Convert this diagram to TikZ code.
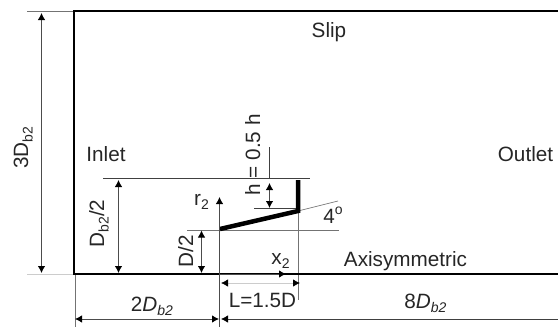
\documentclass[tikz,border=0pt]{standalone}
\usepackage{fontspec}
\setmainfont{Liberation Sans}
\usetikzlibrary{arrows.meta}
\newcommand{\lowsub}[1]{\raisebox{-4.5pt}{\fontsize{14}{14}\selectfont #1}}
\newcommand{\highsup}[1]{\raisebox{9pt}{\fontsize{14}{14}\selectfont #1}}
\tikzset{
  x=1pt,y=-1pt,
  thickline/.style={line width=2pt,black},
  heavy/.style={line width=4.5pt,black,line join=miter},
  thin line/.style={line width=0.8pt,black!75},
  ext/.style={line width=0.7pt,black!55},
  faint/.style={line width=0.8pt,black!20},
  dim/.style={line width=0.9pt,black!70,{Latex[length=7pt,width=7.5pt,black]}-{Latex[length=7pt,width=7.5pt,black]}},
  tip/.style={line width=0.9pt,black!70,-{Latex[length=7pt,width=7.5pt,black]}},
  lab/.style={font=\fontsize{20.7}{22}\selectfont,text=black!85,inner sep=0pt,anchor=base},
}
\begin{document}
\begin{tikzpicture}
\useasboundingbox (0,0) rectangle (558,327);
\coordinate (tl) at (74,11);
\coordinate (tr) at (558,11);
\coordinate (bl) at (74,274);
\coordinate (br) at (558,274);
\coordinate (tlx) at (27,11);
\coordinate (blx) at (27,274);
\coordinate (a) at (220,229);
\coordinate (b) at (298,211);
\coordinate (c) at (298,180);
\coordinate (hl) at (254,208);
\coordinate (hr) at (298,208);
\draw[ext] (tlx) -- (tl);
\draw[faint] (blx) -- (bl);
\draw[thin line] (103,178.5) -- (310,178.5);
\draw[ext] (187,230) -- (339,230);
\draw[thin line] (hl) -- (hr);
\draw[ext] (b) -- (338,201);
\draw[ext] (298,211) -- (298,300);
\draw[ext] (75,274) -- (75,327);
\draw[thin line] (269.5,147) -- (269.5,178);
\draw[thickline] (tr) -- (tl) -- (bl) -- (br);
\draw[heavy] (a) -- (b) -- (c);
\coordinate (d3t) at (41.5,13); \coordinate (d3b) at (41.5,273);
\draw[dim] (d3t) -- (d3b);
\coordinate (d1t) at (118.5,180); \coordinate (d1b) at (118.5,273);
\draw[dim] (d1t) -- (d1b);
\coordinate (d2t) at (201.5,230.5); \coordinate (d2b) at (201.5,273);
\draw[dim] (d2t) -- (d2b);
\coordinate (ht) at (269.5,183); \coordinate (hb) at (269.5,208);
\draw[dim] (ht) -- (hb);
\coordinate (rb) at (219.5,327); \coordinate (rt) at (219.5,197);
\draw[tip] (rb) -- (rt);
\coordinate (xl) at (220,274); \coordinate (xr) at (286,274);
\draw[tip] (xl) -- (xr);
\coordinate (ll) at (221,283); \coordinate (lr) at (300,283);
\draw[faint,{Latex[length=7pt,width=7.5pt,black]}-{Latex[length=7pt,width=7.5pt,black]}] (ll) -- (lr);
\coordinate (wl) at (75,319); \coordinate (wm) at (219,319); \coordinate (wn) at (221,319); \coordinate (wr) at (558,319);
\draw[dim] (wl) -- (wm);
\draw[thin line,{Latex[length=7pt,width=7.5pt,black]}-] (wn) -- (wr);
\node[lab] (slip) at (329,37) {Slip};
\node[lab] (inlet) at (106,161.5) {Inlet};
\node[lab] (outlet) at (525.5,161) {Outlet};
\node[lab,rotate=90] (l3d) at (28,147.5) {3D\lowsub{b2}};
\node[lab,rotate=90] (ldb) at (104,223.5) {D\lowsub{b2}/2};
\node[lab] (lr2) at (201.5,205) {r\lowsub{2}};
\node[lab,rotate=90] (ld2) at (193,251) {D/2};
\node[lab,rotate=90] (lh) at (260,155) {h = 0.5 h};
\node[lab] (l4) at (333,223) {4\highsup{o}};
\node[lab] (lx2) at (280.5,264) {x\lowsub{2}};
\node[lab] (laxi) at (405.5,266) {Axisymmetric};
\node[lab] (ll15) at (262.5,307) {L=1.5D};
\node[lab] (l2d) at (152,311) {2\textit{D}\lowsub{\textit{b2}}};
\node[lab] (l8d) at (425.5,308) {8\textit{D}\lowsub{\textit{b2}}};
\end{tikzpicture}
\end{document}
